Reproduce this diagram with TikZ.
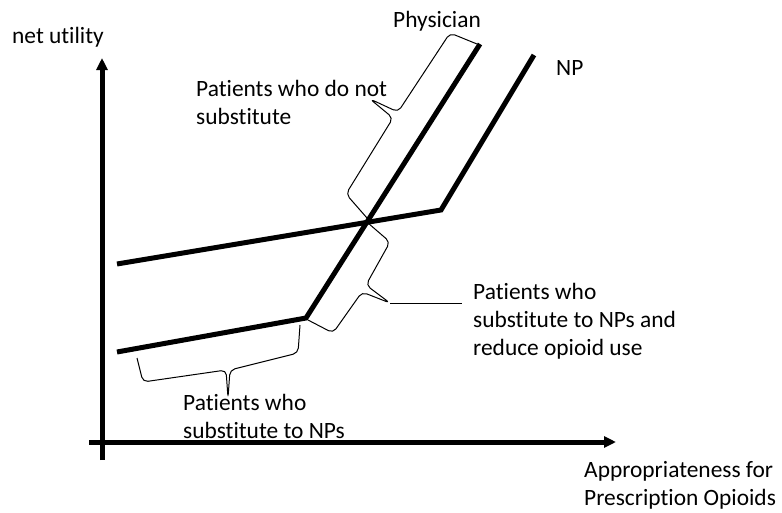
\documentclass[tikz,border=0pt]{standalone}
\usepackage{fontspec}
\setmainfont[Ligatures=NoCommon]{Carlito}
\usetikzlibrary{arrows.meta}
\begin{document}
\begin{tikzpicture}[x=1pt,y=-1pt,
  curve/.style={line width=5pt},
  axis/.style={line width=5pt,-{Triangle[length=12pt,width=11pt]}},
  brace/.style={line width=1pt,rounded corners=5pt},
  lbl/.style={font=\fontsize{23.4}{28}\selectfont,align=left,inner sep=0pt,anchor=base west},
]
\useasboundingbox (0,0) rectangle (782,512);
% axes
\coordinate (ybot) at (102,460);
\coordinate (ytop) at (102,58);
\coordinate (xl) at (89,442);
\coordinate (xr) at (616,442);
\draw[axis] (ybot) -- (ytop);
\draw[axis] (xl) -- (xr);
% curves
\coordinate (np0) at (117,264);
\coordinate (np1) at (441,210);
\coordinate (np2) at (534,55);
\coordinate (ph0) at (117,352);
\coordinate (ph1) at (306,318);
\coordinate (ph2) at (480,44);
\draw[curve] (np0) -- (np1) -- (np2);
\draw[curve] (ph0) -- (ph1) -- (ph2);
% labels (base = baseline of the last line)
\node[lbl] (yl) at (12,43) {net utility};
\node[lbl] (phys) at (393,27) {Physician};
\node[lbl] (np) at (556,75) {NP};
\node[lbl] (t1) at (196,124) {Patients who do not\\substitute};
\node[lbl] (t2) at (473,355) {Patients who\\substitute to NPs and\\reduce opioid use};
\node[lbl] (t3) at (183,438) {Patients who\\substitute to NPs};
\node[lbl] (xlab) at (584,505) {Appropriateness for\\Prescription Opioids};
% braces
\draw[brace] (477,44) -- (450,33) -- (398,112) -- (370,99) -- (393,118) -- (346,194) -- (367,218);
\coordinate (tipR) at (390,303);
\coordinate (tailR) at (462,303);
\draw[brace] (368,223) -- (390,242) -- (366,285) -- (tipR) -- (362,292) -- (333,333) -- (308,320);
\draw[line width=1pt] (tipR) -- (tailR);
\draw[brace] (137,358) -- (143,382) -- (226,370) -- (228,398) -- (230,370) -- (298,353) -- (300,325);
\end{tikzpicture}
\end{document}
